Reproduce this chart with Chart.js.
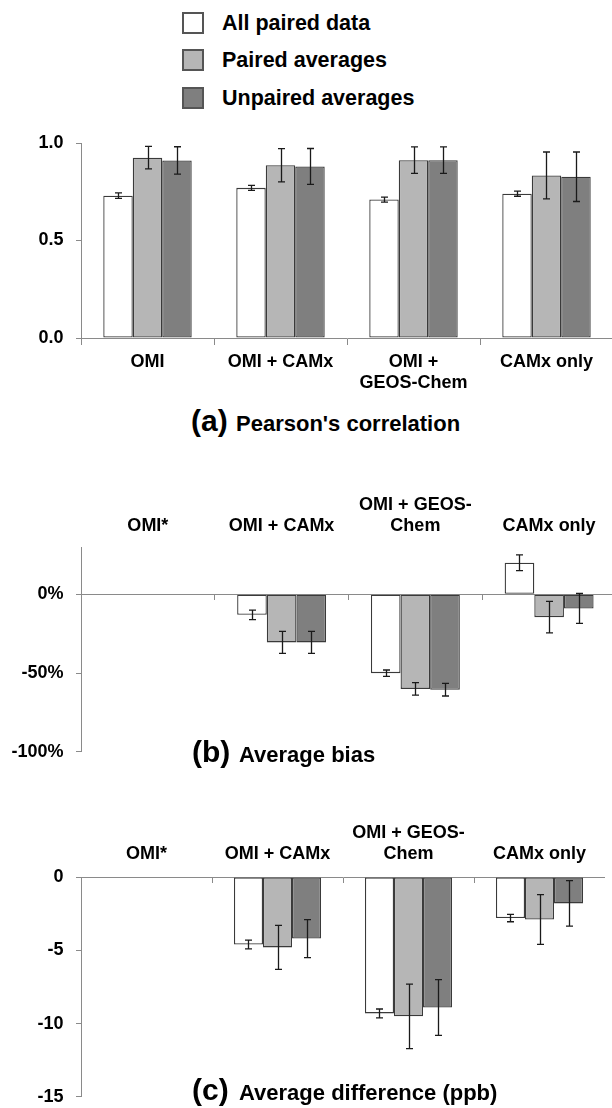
<!DOCTYPE html>
<html>
<head>
<meta charset="utf-8">
<script src="https://cdn.jsdelivr.net/npm/chart.js@4.4.1/dist/chart.umd.min.js"></script>
<style>
  html, body { margin: 0; padding: 0; width: 612px; height: 1108px; overflow: hidden; background: #fff; }
  body { position: relative; font-family: 'Liberation Sans', Arial, sans-serif; font-weight: bold; color: #000; }
  canvas { position: absolute; left: 0; }
  .t { position: absolute; white-space: nowrap; line-height: 1; }
  .key { position: absolute; left: 182px; width: 22px; height: 22px; box-sizing: border-box; border: 2px solid #555; }
  .keytxt { position: absolute; left: 222px; font-size: 21.5px; line-height: 22px; white-space: nowrap; }
</style>
</head>
<body>
<div id="legend"></div>
<canvas id="corr" width="613" height="280" style="top:120px;width:613px;height:280px"></canvas>
<canvas id="bias" width="616" height="320" style="top:455px;width:616px;height:320px"></canvas>
<canvas id="diff" width="605" height="340" style="top:780px;width:605px;height:340px"></canvas>

<div class="t" style="left:191px;top:406px;font-size:30px">(a)</div>
<div class="t" style="left:236px;top:413px;font-size:22px">Pearson's correlation</div>
<div class="t" style="left:192px;top:737px;font-size:30px">(b)</div>
<div class="t" style="left:239px;top:744px;font-size:22px">Average bias</div>
<div class="t" style="left:192px;top:1075px;font-size:30px">(c)</div>
<div class="t" style="left:239px;top:1082px;font-size:22px">Average difference (ppb)</div>

<script>
// ---- data ----
const seriesNames = ['All paired data', 'Paired averages', 'Unpaired averages'];

const labelsCorr = ['OMI', 'OMI + CAMx', ['OMI +', 'GEOS-Chem'], 'CAMx only'];
const labelsBias = ['OMI*', 'OMI + CAMx', ['OMI + GEOS-', 'Chem'], 'CAMx only'];

// (a) Pearson's correlation
const corrAll        = [0.73, 0.77, 0.71, 0.74];
const corrAllErr     = [0.014, 0.013, 0.013, 0.013];
const corrPaired     = [0.925, 0.886, 0.912, 0.834];
const corrPairedErr  = [0.058, 0.085, 0.068, 0.12];
const corrUnpaired   = [0.911, 0.88, 0.912, 0.827];
const corrUnpairedErr= [0.07, 0.092, 0.068, 0.127];
const corrTicks      = [0, 0.5, 1.0];

// (b) Average bias, %
const biasAll        = [null, -13, -50, 20];
const biasAllErr     = [null, 3, 2, 5];
const biasPaired     = [null, -30.5, -60, -14.5];
const biasPairedErr  = [null, 7, 4, 10];
const biasUnpaired   = [null, -30.5, -60.5, -9];
const biasUnpairedErr= [null, 7, 4, 9.5];
const biasTicks      = [-100, -50, 0];

// (c) Average difference, ppb
const diffAll        = [null, -4.6, -9.3, -2.8];
const diffAllErr     = [null, 0.3, 0.3, 0.25];
const diffPaired     = [null, -4.8, -9.5, -2.9];
const diffPairedErr  = [null, 1.5, 2.2, 1.7];
const diffUnpaired   = [null, -4.2, -8.9, -1.8];
const diffUnpairedErr= [null, 1.3, 1.9, 1.55];
const diffTicks      = [-15, -10, -5, 0];

// ---- styling ----
const FILLS = ['#ffffff', '#b6b6b6', '#7f7f7f'];
const BAR_EDGE = '#3a3a3a';
const AXIS = '#8a8a8a';
const FONT = "'Liberation Sans', Arial, sans-serif";
const tickFont = { family: FONT, size: 18, weight: 'bold', lineHeight: 1.17 };

// legend
const legendEl = document.getElementById('legend');
seriesNames.forEach((name, i) => {
  const top = 11.5 + i * 37.5;
  const box = document.createElement('div');
  box.className = 'key';
  box.style.top = top + 'px';
  box.style.background = FILLS[i];
  legendEl.appendChild(box);
  const txt = document.createElement('div');
  txt.className = 'keytxt';
  txt.style.top = top + 'px';
  txt.textContent = name;
  legendEl.appendChild(txt);
});

// whisker plugin: draws +/- error for every bar
const errorBars = {
  id: 'errorBars',
  afterDatasetsDraw(chart) {
    const { ctx } = chart;
    const y = chart.scales.y;
    ctx.save();
    ctx.strokeStyle = '#1a1a1a';
    ctx.lineWidth = 1.3;
    chart.data.datasets.forEach((ds, di) => {
      const meta = chart.getDatasetMeta(di);
      meta.data.forEach((bar, i) => {
        const v = ds.data[i], e = ds.errors[i];
        if (v == null || e == null) return;
        const x = Math.round(bar.x) + 0.5;
        const y1 = y.getPixelForValue(v + e);
        const y2 = y.getPixelForValue(v - e);
        ctx.beginPath();
        ctx.moveTo(x, y1); ctx.lineTo(x, y2);
        ctx.moveTo(x - 3.5, y1); ctx.lineTo(x + 3.5, y1);
        ctx.moveTo(x - 3.5, y2); ctx.lineTo(x + 3.5, y2);
        ctx.stroke();
      });
    });
    ctx.restore();
  }
};

function makeDatasets(values, errors) {
  return values.map((vals, i) => ({
    label: seriesNames[i],
    data: vals,
    errors: errors[i],
    backgroundColor: FILLS[i],
    borderColor: BAR_EDGE,
    borderWidth: 1.3,
    borderSkipped: false,
    categoryPercentage: 0.665,
    barPercentage: 1.0
  }));
}

function yAxis(min, max, tickValues, fmt, padTop) {
  return {
    min, max,
    afterFit: s => { s.width = 81; },
    afterBuildTicks: s => { s.ticks = tickValues.map(v => ({ value: v })); },
    border: { display: true, color: AXIS, width: 1 },
    grid: { drawOnChartArea: false, drawTicks: true, tickLength: 5, color: AXIS },
    ticks: { font: tickFont, color: '#000', padding: 12.5, callback: fmt }
  };
}

const common = {
  responsive: false,
  animation: false,
  devicePixelRatio: 1,
  events: [],
  plugins: { legend: { display: false }, tooltip: { enabled: false }, title: { display: false } }
};

// (a) correlation: category labels beneath the axis
new Chart(document.getElementById('corr'), {
  type: 'bar',
  data: {
    labels: labelsCorr,
    datasets: makeDatasets([corrAll, corrPaired, corrUnpaired], [corrAllErr, corrPairedErr, corrUnpairedErr])
  },
  options: Object.assign({}, common, {
    layout: { padding: { top: 21, right: 0, bottom: 0, left: 0 } },
    scales: {
      x: {
        type: 'category', offset: true,
        afterFit: s => { s.height = 62; },
        border: { display: true, color: AXIS, width: 1 },
        grid: { offset: true, drawOnChartArea: false, drawTicks: true, tickLength: 7, color: AXIS },
        ticks: { font: tickFont, color: '#000', padding: 6.5, maxRotation: 0, autoSkip: false }
      },
      y: yAxis(0, 1, corrTicks, v => Number(v).toFixed(1))
    }
  }),
  plugins: [errorBars]
});

// (b), (c): category labels above the plot, axis line drawn through zero
function topLabelChart(id, labels, values, errors, min, max, ticks, fmt, topH, padBottom, labelPad) {
  return new Chart(document.getElementById(id), {
    type: 'bar',
    data: { labels, datasets: makeDatasets(values, errors) },
    options: Object.assign({}, common, {
      layout: { padding: { top: 0, right: 0, bottom: padBottom, left: 0 } },
      scales: {
        x: {
          type: 'category', position: 'top', offset: true,
          afterFit: s => { s.height = topH; },
          border: { display: false },
          grid: { display: false, drawTicks: false },
          ticks: { font: tickFont, color: '#000', padding: labelPad, maxRotation: 0, autoSkip: false }
        },
        x2: {
          type: 'category', axis: 'x', position: { y: 0 }, offset: true,
          border: { display: true, color: AXIS, width: 1 },
          grid: { offset: true, drawOnChartArea: false, drawTicks: true, tickLength: 5, color: AXIS },
          ticks: { display: false }
        },
        y: yAxis(min, max, ticks, fmt)
      }
    }),
    plugins: [errorBars]
  });
}

topLabelChart('bias', labelsBias,
  [biasAll, biasPaired, biasUnpaired], [biasAllErr, biasPairedErr, biasUnpairedErr],
  -100, 30, biasTicks, v => v + '%', 92, 20, 10.5);

topLabelChart('diff', labelsBias,
  [diffAll, diffPaired, diffUnpaired], [diffAllErr, diffPairedErr, diffUnpairedErr],
  -15, 0, diffTicks, v => String(v), 97, 18.3, 12.5);
</script>
</body>
</html>
